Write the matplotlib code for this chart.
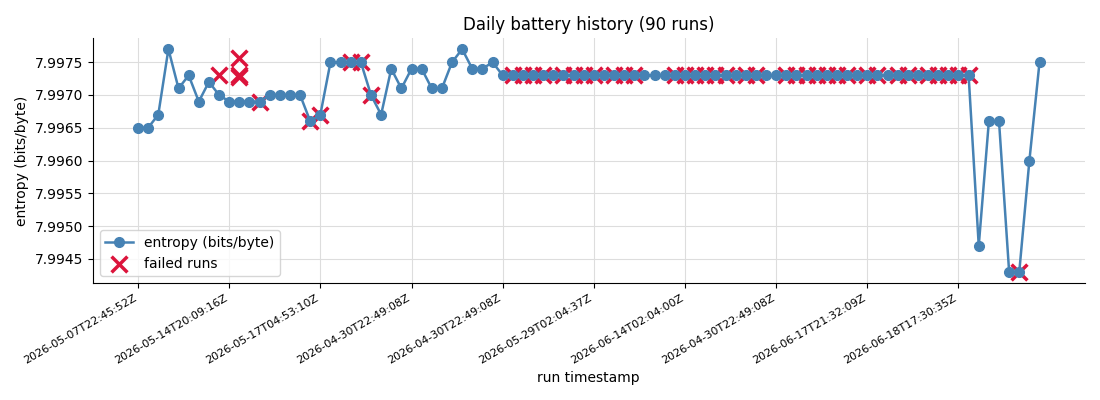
import matplotlib
matplotlib.use("Agg")
import matplotlib.pyplot as plt
from matplotlib.ticker import FormatStrFormatter

# entropy per run, in run order (90 runs)
entropy = [7.9965, 7.9965, 7.9967, 7.9977, 7.9971, 7.9973, 7.9969, 7.9972, 7.9970,
           7.9969, 7.9969, 7.9969, 7.9969, 7.9970, 7.9970, 7.9970, 7.9970, 7.9966,
           7.9967, 7.9975, 7.9975, 7.9975, 7.9975, 7.9970, 7.9967, 7.9974, 7.9971,
           7.9974, 7.9974, 7.9971, 7.9971, 7.9975, 7.9977, 7.9974, 7.9974, 7.9975] \
          + [7.9973] * 47 \
          + [7.9947, 7.9966, 7.9966, 7.9943, 7.9943, 7.9960, 7.9975]

# failed runs: run index and entropy value
fail_idx = [8, 10, 10, 10, 12, 17, 18, 21, 22, 23,
            37, 38, 39, 40, 42, 43, 44, 45, 47, 48, 49,
            53, 54, 55, 56, 57, 58, 60, 61, 64, 65, 66, 67, 68, 69, 70,
            72, 73, 75, 76, 78, 79, 80, 81, 82, 87]
fail_val = [7.9973, 7.99756, 7.9973, 7.99727, 7.9969, 7.9966, 7.9967, 7.9975, 7.9975, 7.9970] \
           + [7.9973] * 35 + [7.9943]

tick_pos = [0, 9, 18, 27, 36, 45, 54, 63, 72, 81]
tick_labels = ["2026-05-07T22:45:52Z", "2026-05-14T20:09:16Z", "2026-05-17T04:53:10Z",
               "2026-04-30T22:49:08Z", "2026-04-30T22:49:08Z", "2026-05-29T02:04:37Z",
               "2026-06-14T02:04:00Z", "2026-04-30T22:49:08Z", "2026-06-17T21:32:09Z",
               "2026-06-18T17:30:35Z"]

runs = list(range(len(entropy)))

fig = plt.figure(figsize=(11, 4), dpi=100)
ax = fig.add_axes([0.0845, 0.2925, 0.9015, 0.6125])

ax.scatter(fail_idx, fail_val, marker="x", s=130, color="crimson", linewidths=2.5,
           label="failed runs", zorder=2)
ax.plot(runs, entropy, color="steelblue", marker="o", markersize=7, linewidth=1.8,
        label="entropy (bits/byte)", zorder=3)

ax.set_xticks(tick_pos)
ax.set_xticklabels(tick_labels, rotation=30, ha="right", fontsize=8)
ax.yaxis.set_major_formatter(FormatStrFormatter("%.4f"))
ax.tick_params(axis="y", labelsize=10)

ax.grid(True, color="#dddddd", linewidth=0.8)
ax.set_axisbelow(True)
ax.spines["top"].set_visible(False)
ax.spines["right"].set_visible(False)

ax.set_title("Daily battery history (90 runs)", fontsize=12)
ax.set_xlabel("run timestamp", fontsize=10)
ax.set_ylabel("entropy (bits/byte)", fontsize=10)
handles, labels = ax.get_legend_handles_labels()
ax.legend(handles[::-1], labels[::-1], loc="lower left", fontsize=10)

fig.savefig("out.png", dpi=100)
